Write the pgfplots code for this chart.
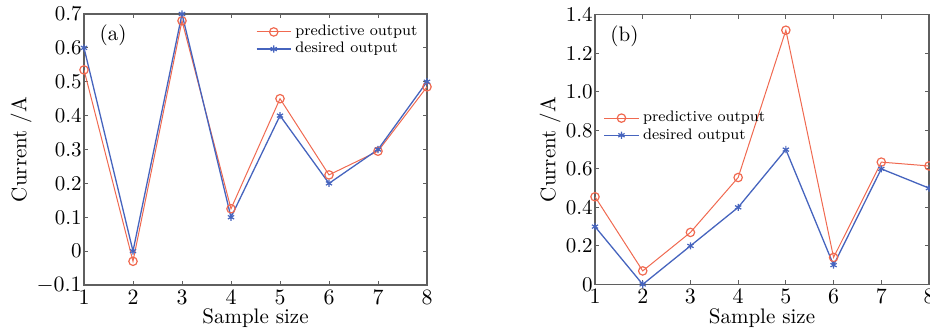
\documentclass[border=0pt]{standalone}
\usepackage{pgfplots}
\pgfplotsset{compat=1.18}
\definecolor{predc}{RGB}{240,105,80}
\definecolor{desc}{RGB}{70,100,190}
\definecolor{framec}{RGB}{95,95,95}
\pgfplotstableread{
x pa da pb db
1 0.535 0.60 0.455 0.30
2 -0.030 0.00 0.070 0.00
3 0.680 0.70 0.270 0.20
4 0.125 0.10 0.555 0.40
5 0.450 0.40 1.320 0.70
6 0.225 0.20 0.140 0.10
7 0.295 0.30 0.635 0.60
8 0.485 0.50 0.615 0.50
}\datatab
\pgfplotsset{
  mystyle/.style={
    scale only axis,
    axis line style={framec, line width=0.6pt},
    tick style={framec, line width=0.5pt},
    tick align=inside,
    major tick length=2pt,
    xmin=1, xmax=8,
    xtick={1,...,8},
    tick label style={font=\fontsize{10.5}{12}\selectfont},
    label style={font=\fontsize{10.5}{12}\selectfont},
    yticklabel style={inner sep=1pt},
    xticklabel style={inner sep=1pt, yshift=-1.5pt},
    xlabel={Sample size},
    ylabel={Current /A},
    xlabel style={inner sep=1pt, yshift=0pt},
    legend cell align=left,
    legend style={draw=none, fill=none, font=\fontsize{7.6}{8}\selectfont, row sep=-2.2pt, inner sep=0pt},
  },
  predstyle/.style={predc, line width=0.5pt, mark=o, mark size=2.1pt, mark options={line width=0.6pt}},
  desstyle/.style={desc, line width=0.65pt, mark=asterisk, mark size=1.8pt, mark options={line width=0.6pt}},
}
\begin{document}
\begin{tikzpicture}
\begin{axis}[mystyle,
  anchor=south west, at={(42pt,-142.5pt)},
  width=171.5pt, height=135.5pt,
  ymin=-0.1, ymax=0.7,
  ytick={-0.1,0,0.1,0.2,0.3,0.4,0.5,0.6,0.7},
  yticklabels={$-0.1$,0,0.1,0.2,0.3,0.4,0.5,0.6,0.7},
  ylabel style={yshift=-2pt},
  legend style={at={(0.985,0.975)}, anchor=north east},
]
\addplot[predstyle] table[x=x,y=pa]{\datatab};
\addlegendentry{predictive output}
\addplot[desstyle] table[x=x,y=da]{\datatab};
\addlegendentry{desired output}
\node[font=\fontsize{10.5}{12}\selectfont, anchor=west] at (rel axis cs:0.025,0.92) {(a)};
\end{axis}
\begin{axis}[mystyle,
  anchor=south west, at={(297.5pt,-142.2pt)},
  width=167pt, height=134.8pt,
  ymin=0, ymax=1.4,
  ytick={0,0.2,0.4,0.6,0.8,1.0,1.2,1.4},
  yticklabels={0,0.2,0.4,0.6,0.8,1.0,1.2,1.4},
  ylabel style={yshift=-2pt},
  legend style={at={(0.025,0.585)}, anchor=west},
]
\addplot[predstyle] table[x=x,y=pb]{\datatab};
\addlegendentry{predictive output}
\addplot[desstyle] table[x=x,y=db]{\datatab};
\addlegendentry{desired output}
\node[font=\fontsize{10.5}{12}\selectfont, anchor=west] at (rel axis cs:0.025,0.92) {(b)};
\end{axis}
\pgfresetboundingbox
\path (0,0) rectangle (465pt,-167.5pt);
\end{tikzpicture}
\end{document}
